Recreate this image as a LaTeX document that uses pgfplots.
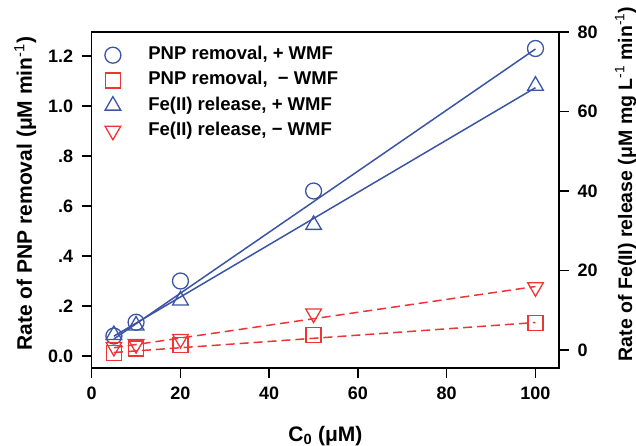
\documentclass[border=0pt]{standalone}
\usepackage{fontspec}
\setmainfont{Liberation Sans}
\usepackage{pgfplots}
\pgfplotsset{compat=1.18}
\definecolor{cblue}{RGB}{59,84,165}
\definecolor{cred}{RGB}{238,52,52}
\newcommand{\tickfont}{\fontsize{18}{20}\selectfont\bfseries}
\newcommand{\labfont}{\fontsize{21}{24}\selectfont\bfseries}
\begin{document}
\begin{tikzpicture}
\begin{axis}[
  name=main, at={(0pt,0pt)}, anchor=south west,
  scale only axis, width=467.3pt, height=336pt,
  xmin=0, xmax=105.3, ymin=-0.048, ymax=1.296,
  axis line style={line width=1.6pt},
  every tick/.style={line width=1.5pt, black},
  major tick length=10pt, tick align=outside,
  xtick pos=bottom, ytick pos=left,
  xtick={0,20,40,60,80,100},
  ytick={0,0.2,0.4,0.6,0.8,1.0,1.2},
  yticklabels={0.0,.2,.4,.6,.8,1.0,1.2},
  /pgf/number format/assume math mode=true,
  tick label style={font=\tickfont},
  xticklabel style={yshift=-5pt},
  yticklabel style={xshift=-5pt},
  xlabel={C\textsubscript{0} (μM)},
  xlabel style={font=\labfont, at={(axis description cs:0.5,0)}, anchor=base, yshift=-73pt},
  ylabel={Rate of PNP removal (μM min\textsuperscript{\mdseries -1})},
  ylabel style={font=\labfont, at={(axis description cs:-0.1278,0.519)}, anchor=base},
  legend cell align=left,
  legend style={draw=none, fill=none, font=\fontsize{18.5}{20}\selectfont\bfseries,
    at={(axis description cs:0,1)}, anchor=north west, xshift=10pt, yshift=-11pt,
    row sep=5.2pt, column sep=26pt, nodes={inner sep=1.5pt, text height=13pt, text depth=4pt}},
]
\addplot[cblue, only marks, mark=o, mark size=8pt, mark options={line width=1.3pt}]
  coordinates {(5,0.080) (10,0.135) (20,0.300) (50,0.660) (100,1.230)};
\addlegendentry{PNP removal, + WMF}
\addplot[cred, only marks, mark=square, mark size=7.5pt, mark options={line width=1.3pt}]
  coordinates {(5,0.012) (10,0.030) (20,0.045) (50,0.084) (100,0.132)};
\addlegendentry{PNP removal, \ − WMF}
\addlegendimage{cblue, only marks, mark=triangle, mark size=9pt, mark options={line width=1.3pt}}
\addlegendentry{Fe(II) release, + WMF}
\addlegendimage{cred, only marks, mark=triangle, mark size=9pt, mark options={line width=1.3pt, rotate=180}}
\addlegendentry{Fe(II) release, − WMF}
\addplot[cblue, line width=1.5pt, forget plot] coordinates {(5,0.068) (100,1.228)};
\addplot[cred, line width=1.5pt, dash pattern=on 9pt off 5pt, forget plot] coordinates {(5,0.014) (100,0.134)};
\end{axis}
\begin{axis}[
  at={(0pt,0pt)}, anchor=south west,
  scale only axis, width=467.3pt, height=336pt,
  xmin=0, xmax=105.3, ymin=-4.5, ymax=80,
  axis x line=none, axis y line*=right,
  axis line style={line width=1.6pt, -},
  every tick/.style={line width=1.5pt, black},
  major tick length=10pt, tick align=outside,
  ytick={0,20,40,60,80},
  /pgf/number format/assume math mode=true,
  tick label style={font=\tickfont},
  yticklabel style={xshift=5pt},
  ylabel={Rate of Fe(II) release (μM mg L\textsuperscript{\mdseries -1} min\textsuperscript{\mdseries -1})},
  ylabel style={font=\fontsize{19.5}{22}\selectfont\bfseries, at={(axis description cs:1.1562,0.548)}, anchor=base},
]
\addplot[cblue, only marks, mark=triangle, mark size=9pt, mark options={line width=1.3pt}]
  coordinates {(5,3.8) (10,6.2) (20,12.5) (50,31.5) (100,66.5)};
\addplot[cred, only marks, mark=triangle, mark size=9pt, mark options={line width=1.3pt, rotate=180}]
  coordinates {(5,0.8) (10,1.5) (20,2.8) (50,9.2) (100,15.8)};
\addplot[cblue, line width=1.5pt] coordinates {(5,3.5) (100,66.0)};
\addplot[cred, line width=1.5pt, dash pattern=on 9pt off 5pt] coordinates {(5,0.6) (100,16.0)};
\end{axis}
\pgfresetboundingbox
\useasboundingbox (-91.7pt,-77pt) rectangle (544.3pt,368pt);
\end{tikzpicture}
\end{document}
